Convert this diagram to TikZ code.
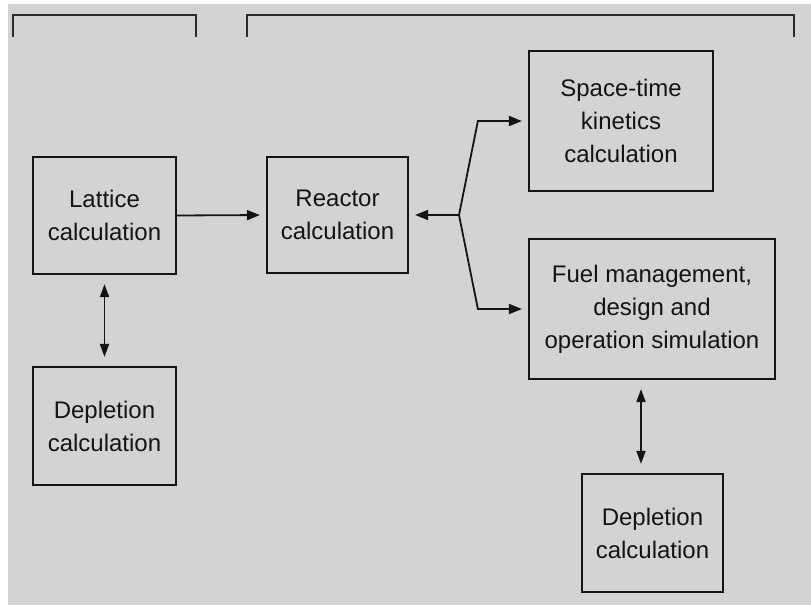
\documentclass[tikz,border=0pt]{standalone}
\usepackage{fontspec}
\setmainfont{Liberation Sans}
\usetikzlibrary{arrows.meta}
\definecolor{bggray}{HTML}{D3D3D3}
\definecolor{ink}{HTML}{141414}
\begin{document}
\begin{tikzpicture}[x=1pt,y=-1pt,
  boxnode/.style={draw=ink,line width=2.2pt,text=ink,align=center,inner sep=0pt,
    font=\fontsize{24pt}{33pt}\selectfont},
  arr/.style={draw=ink,line width=1.8pt,-{Triangle[length=13pt,width=10pt]},shorten >=6pt},
  dblarr/.style={draw=ink,line width=1.8pt,{Triangle[length=13pt,width=9pt]}-{Triangle[length=13pt,width=9pt]},shorten >=9pt,shorten <=9pt},
  bracket/.style={draw=ink!90,line width=2.4pt}]
\useasboundingbox (0,0) rectangle (811,605);
\fill[white] (0,0) rectangle (811,605);
\fill[bggray] (8,4) rectangle (811,605);
% brackets
\draw[bracket] (13,37) -- (13,15) -- (196,15) -- (196,37);
\draw[bracket] (247,37) -- (247,15) -- (794,15) -- (794,37);
% boxes
\node[boxnode,minimum width=143pt,minimum height=117pt] (lat) at (104.5,215.5) {Lattice\\calculation};
\node[boxnode,minimum width=141pt,minimum height=116pt] (rea) at (337.5,215) {Reactor\\calculation};
\node[boxnode,minimum width=184pt,minimum height=140pt] (st) at (621,121) {Space-time\\kinetics\\calculation};
\node[boxnode,minimum width=246pt,minimum height=140pt] (fuel) at (652,309) {Fuel management,\\design and\\operation simulation};
\node[boxnode,minimum width=143pt,minimum height=118pt] (depl) at (104.5,426) {Depletion\\calculation};
\node[boxnode,minimum width=141pt,minimum height=118pt] (depr) at (652.5,533) {Depletion\\calculation};
% connectors
\coordinate (br) at (459,215);
\draw[arr] (lat.east) -- (rea.west);
\draw[arr] (br) -- (rea.east);
\draw[arr] (br) -- ([xshift=-50pt]st.west) -- (st.west);
\draw[arr] (br) -- ([xshift=-50pt]fuel.west) -- (fuel.west);
\draw[dblarr] (lat.south) -- (depl.north);
\draw[dblarr] ([xshift=-11pt]fuel.south) -- ([xshift=-11.5pt]depr.north);
\end{tikzpicture}
\end{document}
